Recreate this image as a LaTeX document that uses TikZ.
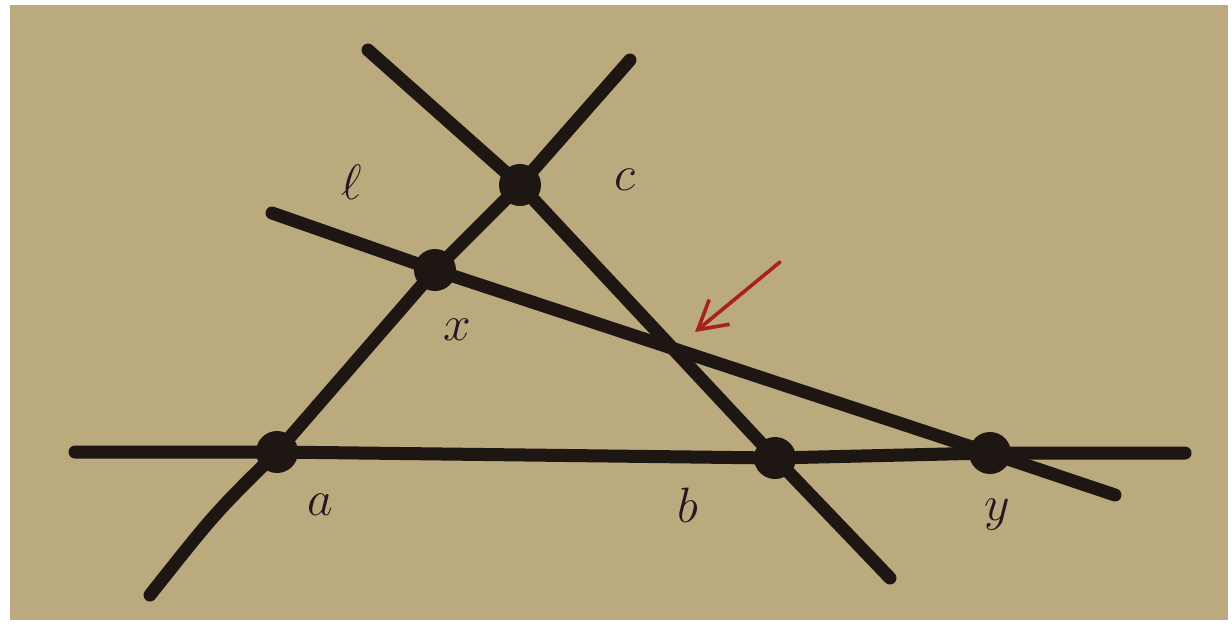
\documentclass[tikz,border=0pt]{standalone}
\usetikzlibrary{arrows.meta}
\definecolor{paper}{RGB}{186,170,126}
\definecolor{ink}{RGB}{30,22,18}
\definecolor{labelink}{RGB}{45,18,35}
\definecolor{redink}{RGB}{165,35,25}
\tikzset{
  ruled/.style={draw=ink, line width=6.5pt, line cap=round},
  dot/.style={circle, fill=ink, minimum size=21pt, inner sep=0pt},
  lbl/.style={text=labelink, font=\fontsize{38}{38}\selectfont, inner sep=0pt},
  pointer/.style={draw=redink, line width=1.8pt, line cap=round, -{Straight Barb[length=14pt,width=16pt]}}
}
\begin{document}
\begin{tikzpicture}[x=0.5pt,y=-0.5pt]
\useasboundingbox (0,0) rectangle (1232,629);
\fill[white] (0,0) rectangle (1232,629);
\fill[paper] (10,5) rectangle (1228,620);
% free ends
\coordinate (h1) at (75,452);
\coordinate (h2) at (1185,453);
\coordinate (ac1) at (150,595);
\coordinate (ac2) at (630,60);
\coordinate (cb1) at (368,50);
\coordinate (cb2) at (890,578);
\coordinate (l1) at (272,213);
\coordinate (l2) at (1115,495);
\coordinate (ar1) at (780,262);
\coordinate (ar2) at (695,332);
% points
\node[dot] (a) at (277,452) {};
\node[dot] (b) at (775,458) {};
\node[dot] (y) at (990,453) {};
\node[dot] (x) at (435,270) {};
\node[dot] (c) at (520,185) {};
% lines
\draw[ruled] (h1) -- (a.center) -- (b.center) -- (y.center) -- (h2);
\draw[ruled] (ac1) .. controls (215,513) .. (a.center) -- (x.center) -- (c.center) -- (ac2);
\draw[ruled] (cb1) -- (c.center) -- (b.center) -- (cb2);
\draw[ruled] (l1) -- (x.center) -- (y.center) -- (l2);
\draw[pointer] (ar1) -- (ar2);
% labels
\node[lbl] (la) at (320,505) {$a$};
\node[lbl] (lb) at (688,505) {$b$};
\node[lbl] (ly) at (997,515) {$y$};
\node[lbl] (lx) at (457,330) {$x$};
\node[lbl] (lc) at (625,180) {$c$};
\node[lbl] (ll) at (352,182) {$\ell$};
\end{tikzpicture}
\end{document}
